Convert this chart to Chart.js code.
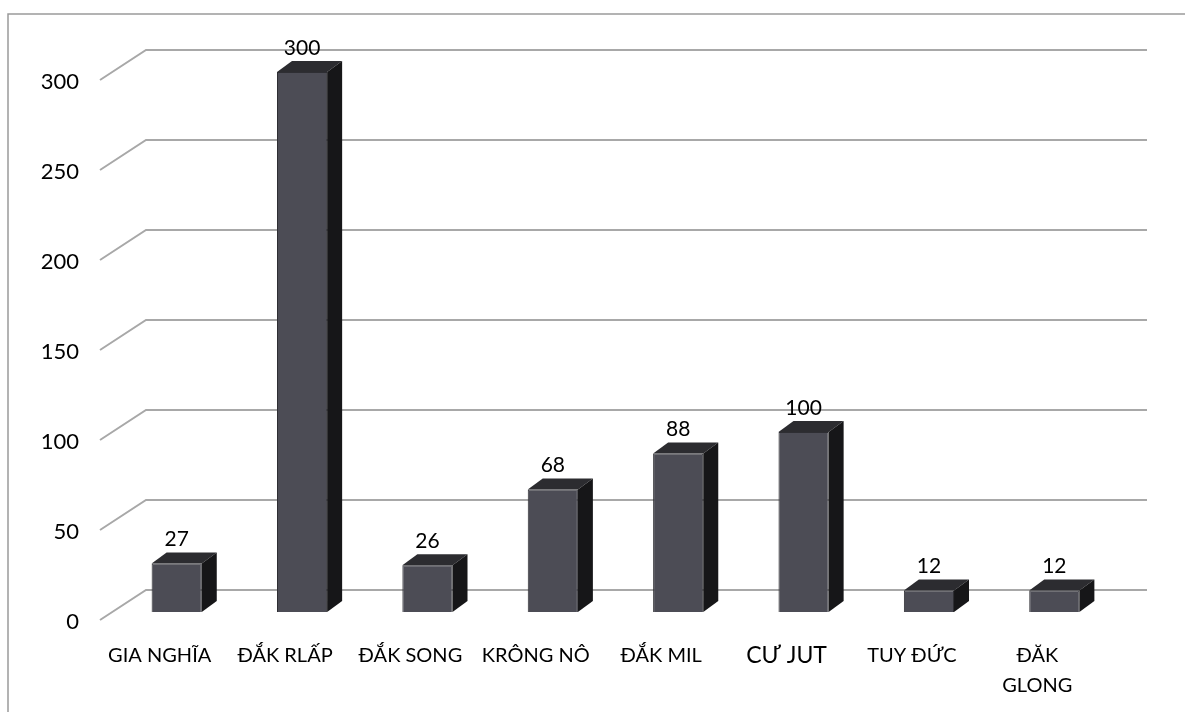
<!DOCTYPE html>
<html>
<head>
<meta charset="utf-8">
<script src="https://cdn.jsdelivr.net/npm/chart.js@4.4.1/dist/chart.umd.min.js"></script>
<style>
  body { margin: 0; background: #fff; }
  canvas { display: block; }
</style>
</head>
<body>
<canvas id="myChart" width="1185" height="712"></canvas>
<script>
// districts and counts
const districts = ["GIA NGHĨA", "ĐẮK RLẤP", "ĐẮK SONG", "KRÔNG NÔ", "ĐẮK MIL", "CƯ JUT", "TUY ĐỨC", ["ĐĂK", "GLONG"]];
const counts = [27, 300, 26, 68, 88, 100, 12, 12];
const yTicks = [0, 50, 100, 150, 200, 250, 300];

const DEPTH_X = 15, DEPTH_Y = -11; // bar depth
const WALL_X = 46, WALL_Y = -30;   // back wall offset for grid lines

// frame + perspective gridlines (drawn before bars so they sit behind)
const backdrop = {
    id: "backdrop",
    beforeDatasetsDraw(chart) {
        const c = chart.ctx;
        const y = chart.scales.y;
        const left = chart.chartArea.left - 14;
        c.save();
        c.strokeStyle = "#9a9a9a";
        c.lineWidth = 1.5;
        c.beginPath();
        c.moveTo(8, 712);
        c.lineTo(8, 14);
        c.lineTo(1185, 14);
        c.stroke();
        c.strokeStyle = "#a8a8a8";
        c.lineWidth = 2;
        yTicks.forEach((v) => {
            const py = y.getPixelForValue(v) + 8;
            c.beginPath();
            c.moveTo(left, py);
            c.lineTo(left + WALL_X, py + WALL_Y);
            c.lineTo(1147, py + WALL_Y);
            c.stroke();
        });
        c.restore();
    }
};

// top and side faces, then value labels
const boxes = {
    id: "boxes",
    afterDatasetsDraw(chart) {
        const c = chart.ctx;
        const meta = chart.getDatasetMeta(0);
        c.save();
        meta.data.forEach((bar, i) => {
            const l = bar.x - bar.width / 2, r = bar.x + bar.width / 2;
            c.fillStyle = "#2c2c30";
            c.beginPath();
            c.moveTo(l, bar.y);
            c.lineTo(l + DEPTH_X, bar.y + DEPTH_Y);
            c.lineTo(r + DEPTH_X, bar.y + DEPTH_Y);
            c.lineTo(r, bar.y);
            c.closePath();
            c.fill();
            c.fillStyle = "#161618";
            c.beginPath();
            c.moveTo(r, bar.y);
            c.lineTo(r + DEPTH_X, bar.y + DEPTH_Y);
            c.lineTo(r + DEPTH_X, bar.base + DEPTH_Y);
            c.lineTo(r, bar.base);
            c.closePath();
            c.fill();

            c.fillStyle = "#000";
            c.font = "21px Lato";
            c.textAlign = "center";
            c.textBaseline = "middle";
            c.fillText(counts[i], bar.x, bar.y - 24);
        });
        c.restore();
    }
};

const ctx = document.getElementById("myChart").getContext("2d");
new Chart(ctx, {
    type: "bar",
    data: {
        labels: districts,
        datasets: [
            {
                data: counts,
                backgroundColor: "#4c4c55",
                borderColor: "#2e2e33",
                borderWidth: 1,
                barPercentage: 0.4,
                categoryPercentage: 1
            }
        ]
    },
    options: {
        responsive: false,
        animation: false,
        layout: {padding: {top: 72, right: 68, bottom: 0, left: 0}},
        plugins: {
            legend: {display: false},
            tooltip: {enabled: false}
        },
        scales: {
            y: {
                min: 0,
                max: 300,
                afterFit: (s) => { s.width = 114; },
                afterBuildTicks: (s) => { s.ticks = yTicks.map((v) => ({value: v})); },
                grid: {display: false, drawTicks: false},
                border: {display: false},
                ticks: {
                    padding: 35,
                    labelOffset: 10,
                    color: "#000",
                    font: {family: "Lato", size: 22}
                }
            },
            x: {
                afterFit: (s) => { s.height = 100; },
                grid: {display: false, drawTicks: false},
                border: {display: false},
                ticks: {
                    padding: 29,
                    labelOffset: -17,
                    maxRotation: 0,
                    autoSkip: false,
                    color: "#000",
                    font: (c) => ({family: "Lato", size: c.index === 5 ? 23 : 20, lineHeight: "30px"})
                }
            }
        }
    },
    plugins: [backdrop, boxes]
});
</script>
</body>
</html>
